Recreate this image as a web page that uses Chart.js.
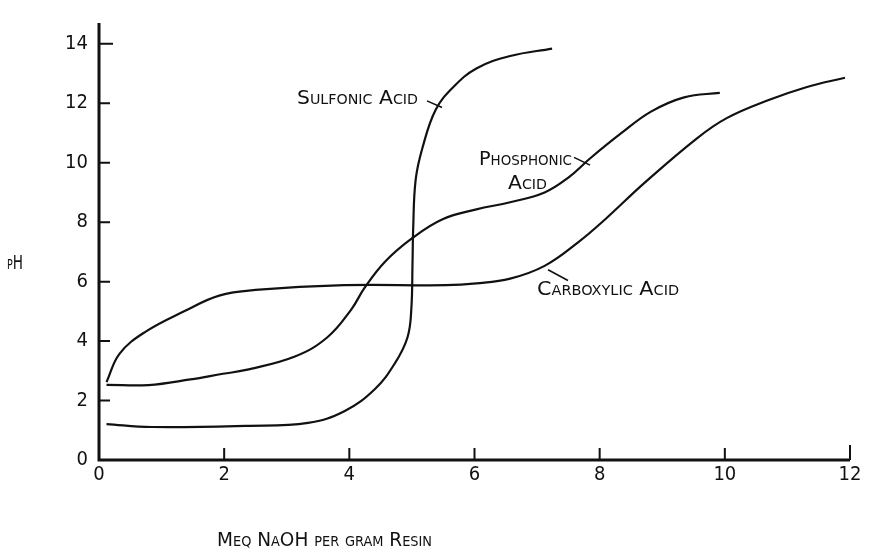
<!DOCTYPE html>
<html><head><meta charset="utf-8">
<script src="https://cdn.jsdelivr.net/npm/chart.js@4.4.1/dist/chart.umd.min.js"></script>
<style>html,body{margin:0;padding:0;background:#fff;}canvas{display:block}</style>
</head><body>
<canvas id="c" width="869" height="557"></canvas>
<script>
// ---- data ----
const xTicks = [0, 2, 4, 6, 8, 10, 12];
const yTicks = [0, 2, 4, 6, 8, 10, 12, 14];

const sulfonicX = [0.12, 0.84, 2.35, 3.34, 3.92, 4.41, 4.73, 4.93, 4.99, 5.01, 5.02, 5.06, 5.17, 5.38, 5.66, 6.03, 6.57, 7.24];
const sulfonicY = [1.21, 1.11, 1.15, 1.25, 1.64, 2.39, 3.26, 4.13, 5.06, 6.67, 7.77, 9.43, 10.51, 11.78, 12.54, 13.17, 13.59, 13.84];

const phosphonicX = [0.12, 0.79, 1.46, 1.98, 2.35, 3.13, 3.65, 4.03, 4.24, 4.57, 5.01, 5.49, 6.03, 6.57, 7.12, 7.50, 7.85, 8.35, 8.82, 9.35, 9.92];
const phosphonicY = [2.53, 2.52, 2.71, 2.90, 3.03, 3.48, 4.13, 5.06, 5.78, 6.67, 7.47, 8.10, 8.43, 8.67, 9.00, 9.50, 10.15, 11.00, 11.72, 12.20, 12.35];

const carboxylicX = [0.12, 0.33, 0.74, 1.36, 1.92, 2.50, 3.92, 5.54, 6.03, 6.57, 7.12, 7.66, 8.09, 8.72, 9.56, 10.03, 10.69, 11.30, 11.92];
const carboxylicY = [2.62, 3.58, 4.31, 5.00, 5.53, 5.72, 5.88, 5.88, 5.94, 6.10, 6.53, 7.33, 8.10, 9.33, 10.83, 11.50, 12.10, 12.54, 12.86];

// ---- annotation texts (drawn in small caps) ----
const textItems = [
  {text: 'Sulfonic Acid', x: 3.164, y: 11.99, w: 121},
  {text: 'Phosphonic', x: 6.072, y: 9.92, w: 93},
  {text: 'Acid', x: 6.535, y: 9.10, w: 39},
  {text: 'Carboxylic Acid', x: 7.00, y: 5.56, w: 142},
  {text: 'Meq NaOH per gram Resin', x: 1.886, y: -2.88, w: 215},
  {text: 'pH', x: -1.47, y: 6.43, w: 16}
];
const leaders = [
  [5.241, 12.08, 5.481, 11.86],
  [7.59, 10.18, 7.846, 9.92],
  [7.175, 6.40, 7.494, 6.04]
];

function pts(xs, ys) { return xs.map((x, i) => ({x: x, y: ys[i]})); }

const ink = '#111';
const textFont = 'small-caps 500 20px "DejaVu Sans Condensed", "Liberation Sans Narrow", "Noto Sans", sans-serif';
const tickFamily = '"Liberation Sans Narrow", "DejaVu Sans Condensed", "Noto Sans", sans-serif';

const decor = {
  id: 'decor',
  afterDraw(chart) {
    const ctx = chart.ctx, xs = chart.scales.x, ys = chart.scales.y, a = chart.chartArea;
    ctx.save();
    ctx.strokeStyle = ink;
    ctx.lineCap = 'butt';
    // axes
    ctx.lineWidth = 3;
    ctx.beginPath();
    ctx.moveTo(a.left, a.top); ctx.lineTo(a.left, a.bottom + 1.5);
    ctx.moveTo(a.left - 1.5, a.bottom); ctx.lineTo(a.right, a.bottom);
    ctx.stroke();
    // inward ticks
    ctx.lineWidth = 2;
    ctx.beginPath();
    yTicks.forEach(v => {
      if (v === 0) return;
      const p = ys.getPixelForValue(v);
      ctx.moveTo(a.left, p); ctx.lineTo(a.left + (v === 14 ? 14 : 11), p);
    });
    xTicks.forEach(v => {
      if (v === 0) return;
      const p = xs.getPixelForValue(v);
      ctx.moveTo(p, a.bottom); ctx.lineTo(p, a.bottom - (v === 12 ? 15 : 12));
    });
    ctx.stroke();
    // leader lines
    ctx.lineWidth = 1.6;
    ctx.beginPath();
    leaders.forEach(l => {
      ctx.moveTo(xs.getPixelForValue(l[0]), ys.getPixelForValue(l[1]));
      ctx.lineTo(xs.getPixelForValue(l[2]), ys.getPixelForValue(l[3]));
    });
    ctx.stroke();
    // texts
    ctx.fillStyle = ink;
    ctx.font = textFont;
    ctx.textAlign = 'left';
    ctx.textBaseline = 'alphabetic';
    textItems.forEach(t => {
      const px = xs.getPixelForValue(t.x), py = ys.getPixelForValue(t.y);
      const mw = ctx.measureText(t.text).width;
      ctx.save();
      ctx.translate(px, py);
      ctx.scale(t.w / mw, 1);
      ctx.fillText(t.text, 0, 0);
      ctx.restore();
    });
    ctx.restore();
  }
};

const lineStyle = {
  borderColor: ink, borderWidth: 2.2, pointRadius: 0, fill: false,
  tension: 0.4
};

new Chart(document.getElementById('c'), {
  type: 'line',
  data: {
    datasets: [
      Object.assign({label: 'Sulfonic Acid', data: pts(sulfonicX, sulfonicY)}, lineStyle),
      Object.assign({label: 'Phosphonic Acid', data: pts(phosphonicX, phosphonicY)}, lineStyle),
      Object.assign({label: 'Carboxylic Acid', data: pts(carboxylicX, carboxylicY)}, lineStyle)
    ]
  },
  options: {
    responsive: false,
    animation: false,
    devicePixelRatio: 1,
    layout: {padding: {top: 5, right: 19, left: 0, bottom: 0}},
    plugins: {legend: {display: false}, tooltip: {enabled: false}},
    scales: {
      x: {
        type: 'linear', min: 0, max: 12,
        grid: {display: false, drawTicks: false},
        border: {display: false},
        afterBuildTicks: s => { s.ticks = xTicks.map(v => ({value: v})); },
        afterFit: s => { s.height = 97; },
        ticks: {color: ink, padding: 3, maxRotation: 0, autoSkip: false,
          font: {family: tickFamily, size: 20}}
      },
      y: {
        type: 'linear', min: 0, max: 14.7,
        grid: {display: false, drawTicks: false},
        border: {display: false},
        afterBuildTicks: s => { s.ticks = yTicks.map(v => ({value: v})); },
        afterFit: s => { s.width = 99; },
        ticks: {color: ink, padding: 11, autoSkip: false,
          font: {family: tickFamily, size: 20}}
      }
    }
  },
  plugins: [decor]
});
</script>
</body></html>
